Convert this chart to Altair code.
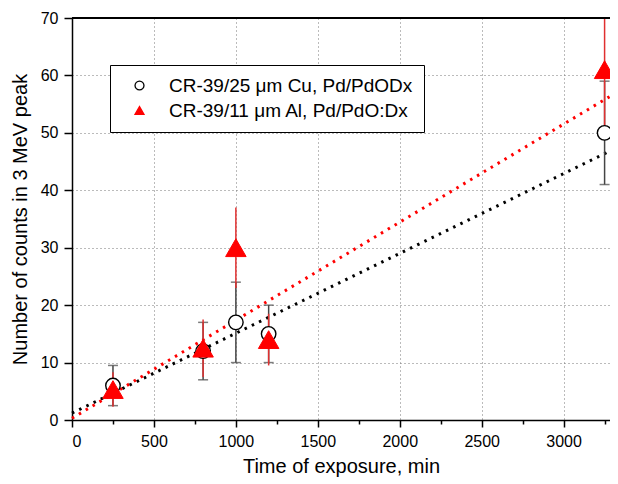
import altair as alt
import pandas as pd

# ---- data ----
series = ["CR-39/25 μm Cu, Pd/PdODx", "CR-39/11 μm Al, Pd/PdO:Dx"]
time_min = [250, 800, 1000, 1200, 3250]
cu_counts = [6, 12, 17, 15, 50]
cu_err = [3.5, 5, 7, 5, 9]
al_counts = [5.3, 12.5, 30, 14, 61]
al_err = [3, 5, 7, 4.5, 10]
fit_x = [0, 3280]
fit_cu = [1.2, 46.8]
fit_al = [0.3, 56.3]
x_ticks = list(range(0, 3251, 250))
y_ticks = list(range(0, 71, 5))

W, H = 538, 402
XMAX = 3283
FONT = "Liberation Sans"

pts = pd.DataFrame({
    "time": time_min * 2,
    "counts": cu_counts + al_counts,
    "err": cu_err + al_err,
    "series": [series[0]] * len(time_min) + [series[1]] * len(time_min),
})
pts["lo"] = pts["counts"] - pts["err"]
pts["hi"] = pts["counts"] + pts["err"]

fit = pd.DataFrame({
    "time": fit_x * 2,
    "counts": fit_cu + fit_al,
    "series": [series[0]] * len(fit_x) + [series[1]] * len(fit_x),
})

x_axis = alt.Axis(
    values=x_ticks, format="d",
    labelExpr="datum.value % 500 === 0 ? datum.label : ''",
    tickSize={"condition": {"test": "datum.value % 500 !== 0", "value": 4}, "value": 7},
    gridOpacity={"condition": {"test": "datum.value % 500 !== 0", "value": 0}, "value": 1},
    grid=True,
    titlePadding=7,
)
y_axis = alt.Axis(
    values=y_ticks, format="d",
    labelExpr="datum.value % 10 === 0 ? datum.label : ''",
    tickSize={"condition": {"test": "datum.value % 10 !== 0", "value": 4}, "value": 8},
    gridOpacity={"condition": {"test": "datum.value % 10 !== 0", "value": 0}, "value": 1},
    grid=True,
    titlePadding=10,
)

xs = alt.X("time:Q", scale=alt.Scale(domain=[0, XMAX], nice=False, zero=False),
           axis=x_axis, title="Time of exposure, min")
ys = alt.Y("counts:Q", scale=alt.Scale(domain=[0, 70], nice=False),
           axis=y_axis, title="Number of counts in 3 MeV peak")

leg = alt.Legend(
    orient="none", legendX=38, legendY=47, title=None,
    strokeColor="black", fillColor="white", padding=11,
    labelFontSize=19, labelFont=FONT, labelColor="black", labelLimit=500,
    symbolSize=80, symbolOffset=9, labelOffset=20, rowPadding=5,
    symbolStrokeWidth=1.3,
)
shape_enc = alt.Shape("series:N", scale=alt.Scale(domain=series, range=["circle", "triangle-up"]), legend=leg)
fill_enc = alt.Fill("series:N", scale=alt.Scale(domain=series, range=["white", "red"]), legend=leg)
stroke_enc = alt.Stroke("series:N", scale=alt.Scale(domain=series, range=["black", "red"]), legend=leg)

top_frame = alt.Chart(pts).mark_rule(color="black", strokeWidth=1.5).encode(
    x=alt.value(0), x2=alt.value(W), y=alt.value(0))

def fit_layer(name, color):
    return alt.Chart(fit).transform_filter(alt.datum.series == name).mark_line(
        color=color, strokeWidth=3, strokeDash=[2.5, 5.5]).encode(x=xs, y=ys)

def err_rule(name, color):
    return alt.Chart(pts).transform_filter(alt.datum.series == name).mark_rule(
        color=color, strokeWidth=1.5, clip=True).encode(x=xs, y=alt.Y("lo:Q"), y2="hi:Q")

def err_caps(name, color):
    return alt.Chart(pts).transform_filter(alt.datum.series == name).transform_fold(
        ["lo", "hi"], as_=["k", "v"]).mark_tick(
        orient="horizontal", size=10, thickness=1.5, color=color, clip=True).encode(
        x=xs, y=alt.Y("v:Q"))

circles = alt.Chart(pts).transform_filter(alt.datum.series == series[0]).mark_point(
    filled=False, opacity=1, fillOpacity=1, size=210, strokeWidth=1.4).encode(
    x=xs, y=ys, shape=shape_enc, fill=fill_enc, stroke=stroke_enc)
tris = alt.Chart(pts).transform_filter(alt.datum.series == series[1]).mark_point(
    filled=False, opacity=1, fillOpacity=1, size=420, strokeWidth=1).encode(
    x=xs, y=ys, shape=shape_enc, fill=fill_enc, stroke=stroke_enc)

layers = [
    fit_layer(series[0], "black"), fit_layer(series[1], "red"),
    err_rule(series[0], "#454545"), err_caps(series[0], "#454545"),
    err_rule(series[1], "#e03030"),
    circles, tris, top_frame,
]

chart = alt.layer(*layers).properties(
    width=W, height=H,
    padding={"left": 64, "top": 10, "right": 0, "bottom": 58},
    autosize=alt.AutoSizeParams(type="none"),
).configure_view(stroke=None).configure(font=FONT).configure_axis(
    domainColor="black", domainWidth=1.5, tickColor="black", tickWidth=1.5,
    labelFont=FONT, labelFontSize=16, labelColor="black", labelPadding=6,
    titleFont=FONT, titleFontSize=20, titleFontWeight="normal", titleColor="black",
    gridColor="#777777", gridDash=[1, 3], gridWidth=1,
)

chart.save("out.html", embed_options={"renderer": "svg", "actions": False})
